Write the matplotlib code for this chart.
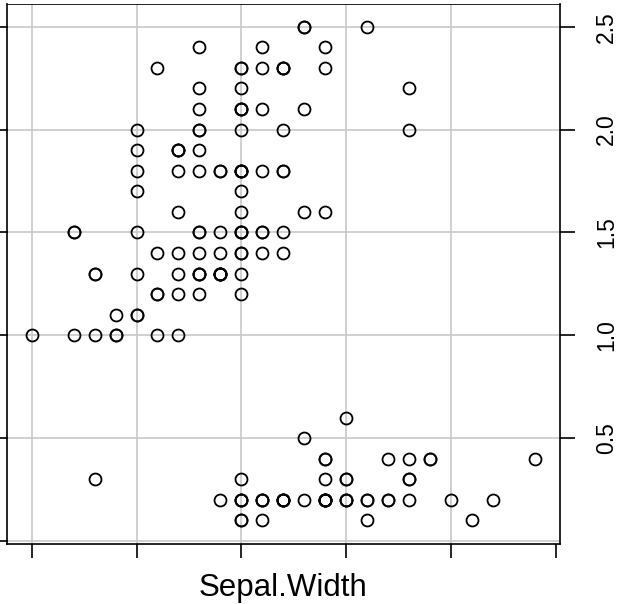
import matplotlib.pyplot as plt
import numpy as np

plt.rcParams['font.family'] = ['Liberation Sans', 'DejaVu Sans']

# iris: Sepal.Width vs Petal.Width
sepal_width = [
    3.5, 3.0, 3.2, 3.1, 3.6, 3.9, 3.4, 3.4, 2.9, 3.1, 3.7, 3.4, 3.0, 3.0, 4.0, 4.4, 3.9, 3.5, 3.8, 3.8,
    3.4, 3.7, 3.6, 3.3, 3.4, 3.0, 3.4, 3.5, 3.4, 3.2, 3.1, 3.4, 4.1, 4.2, 3.1, 3.2, 3.5, 3.6, 3.0, 3.4,
    3.5, 2.3, 3.2, 3.5, 3.8, 3.0, 3.8, 3.2, 3.7, 3.3,
    3.2, 3.2, 3.1, 2.3, 2.8, 2.8, 3.3, 2.4, 2.9, 2.7, 2.0, 3.0, 2.2, 2.9, 2.9, 3.1, 3.0, 2.7, 2.2, 2.5,
    3.2, 2.8, 2.5, 2.8, 2.9, 3.0, 2.8, 3.0, 2.9, 2.6, 2.4, 2.4, 2.7, 2.7, 3.0, 3.4, 3.1, 2.3, 3.0, 2.5,
    2.6, 3.0, 2.6, 2.3, 2.7, 3.0, 2.9, 2.9, 2.5, 2.8,
    3.3, 2.7, 3.0, 2.9, 3.0, 3.0, 2.5, 2.9, 2.5, 3.6, 3.2, 2.7, 3.0, 2.5, 2.8, 3.2, 3.0, 3.8, 2.6, 2.2,
    3.2, 2.8, 2.8, 2.7, 3.3, 3.2, 2.8, 3.0, 2.8, 3.0, 2.8, 3.8, 2.8, 2.8, 2.6, 3.0, 3.4, 3.1, 3.0, 3.1,
    3.1, 3.1, 2.7, 3.2, 3.3, 3.0, 2.5, 3.0, 3.4, 3.0]
petal_width = [
    0.2, 0.2, 0.2, 0.2, 0.2, 0.4, 0.3, 0.2, 0.2, 0.1, 0.2, 0.2, 0.1, 0.1, 0.2, 0.4, 0.4, 0.3, 0.3, 0.3,
    0.2, 0.4, 0.2, 0.5, 0.2, 0.2, 0.4, 0.2, 0.2, 0.2, 0.2, 0.4, 0.1, 0.2, 0.2, 0.2, 0.2, 0.1, 0.2, 0.2,
    0.3, 0.3, 0.2, 0.6, 0.4, 0.3, 0.2, 0.2, 0.2, 0.2,
    1.4, 1.5, 1.5, 1.3, 1.5, 1.3, 1.6, 1.0, 1.3, 1.4, 1.0, 1.5, 1.0, 1.4, 1.3, 1.4, 1.5, 1.0, 1.5, 1.1,
    1.8, 1.3, 1.5, 1.2, 1.3, 1.4, 1.4, 1.7, 1.5, 1.0, 1.1, 1.0, 1.2, 1.6, 1.5, 1.6, 1.5, 1.3, 1.3, 1.3,
    1.2, 1.4, 1.2, 1.0, 1.3, 1.2, 1.3, 1.3, 1.1, 1.3,
    2.5, 1.9, 2.1, 1.8, 2.2, 2.1, 1.7, 1.8, 1.8, 2.5, 2.0, 1.9, 2.1, 2.0, 2.4, 2.3, 1.8, 2.2, 2.3, 1.5,
    2.3, 2.0, 2.0, 1.8, 2.1, 1.8, 1.8, 1.8, 2.1, 1.6, 1.9, 2.0, 2.2, 1.5, 1.4, 2.3, 2.4, 1.8, 1.8, 2.1,
    2.4, 2.3, 1.9, 2.3, 2.5, 2.3, 1.9, 2.0, 2.3, 1.8]

x_ticks = [2.0, 2.5, 3.0, 3.5, 4.0, 4.5]
x_grid = [2.0, 2.5, 3.0, 3.5, 4.0]
y_ticks = [0.5, 1.0, 1.5, 2.0, 2.5]
y_grid = [0.0, 0.5, 1.0, 1.5, 2.0, 2.5]
y_labels = ['0.5', '1.0', '1.5', '2.0', '2.5']

fig = plt.figure(figsize=(6.19, 6.04), dpi=100)
ax = fig.add_axes([6.5/619, 60/604, 553/619, 540.5/604])
ax.set_xlim(1.880, 4.517)
ax.set_ylim(-0.0146, 2.613)

for gx in x_grid:
    ax.axvline(gx, color='#c8c8c8', lw=1.2, zorder=0)
for gy in y_grid:
    ax.axhline(gy, color='#c8c8c8', lw=1.2, zorder=0)

ax.plot(sepal_width, petal_width, 'o', mfc='none', mec='black', ms=8.6, mew=1.3, ls='None')

for s in ['left', 'bottom', 'right']:
    ax.spines[s].set_linewidth(1.2)
ax.spines['top'].set_linewidth(0.6)

ax.set_xticks(x_ticks)
ax.set_xticklabels([])
ax.tick_params(axis='x', direction='out', length=10, width=1.2)

ax.yaxis.tick_right()
ax.set_yticks(y_ticks)
ax.set_yticklabels(y_labels, rotation=90, va='center', fontsize=16.5)
ax.tick_params(axis='y', direction='out', length=10.5, width=1.2, pad=15)

# short left ticks (clipped at figure edge)
for gy in y_grid:
    ax.plot([1.880, 1.880 - 0.03], [gy, gy], color='black', lw=1.2, clip_on=False)

fig.text(283/619, 8/604, 'Sepal.Width', fontsize=22.5, ha='center', va='baseline')

plt.savefig('out.png', dpi=100)
